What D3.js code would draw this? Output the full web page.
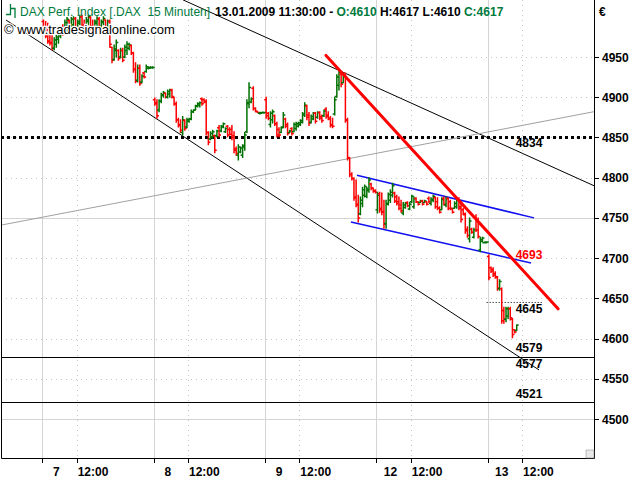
<!DOCTYPE html>
<html><head><meta charset="utf-8">
<script src="https://cdn.jsdelivr.net/npm/d3@7"></script>
<style>
body{margin:0;background:#fff}
svg{display:block;font-family:"Liberation Sans",Arial,sans-serif}
</style>
</head><body>
<svg id="c" width="640" height="480"></svg>
<script>
// ---- data: 15-minute OHLC bars [open, high, low, close], one array per trading day ----
const dayLabels = ["7", "8", "9", "12", "13"];
const barsPerDay = 52;           // 08:00 .. 21:00
const noonOffset = 16;           // 12:00 = 16 bars after day start

const day7 = [
[4994,4996,4980,4982],[4982,4994,4974,4976],[4976,4992,4967,4969],[4970,4980,4965,4967],
[4968,4980,4959,4961],[4961,4974,4959,4971],[4966,4977,4962,4975],[4972,4984,4967,4982],
[4976,4987,4974,4985],[4986,4990,4977,4979],[4980,4996,4980,4993],[4988,4999,4981,4997],
[4995,4996,4980,4984],[4988,4999,4987,4997],[4990,5000,4986,4998],[4998,4999,4984,4986],
[4986,4996,4984,4994],[4992,5002,4990,5000],[5000,5002,4986,4988],[4990,4996,4984,4985],
[4986,4999,4986,4996],[4994,5002,4990,5000],[4999,5000,4984,4986],[4988,4996,4981,4983],
[4987,4996,4986,4994],[4992,5000,4987,4998],[4997,4999,4984,4988],[4988,4996,4984,4994],
[4993,5000,4990,4998],[4996,4996,4984,4986],[4986,4996,4984,4994],[4994,4996,4962,4966],
[4962,4962,4943,4946],[4947,4965,4946,4960],[4958,4971,4950,4968],[4958,4959,4946,4948],
[4950,4961,4949,4958],[4958,4961,4944,4946],[4950,4965,4949,4962],[4958,4969,4953,4966],
[4961,4967,4959,4965],[4964,4965,4953,4955],[4955,4956,4931,4934],[4935,4943,4918,4920],
[4921,4940,4919,4936],[4936,4940,4915,4917],[4919,4928,4918,4926],[4930,4931,4924,4925],
[4932,4940,4931,4938],[4936,4938,4935,4937],[4936,4938,4936,4937],[4937,4938,4936,4937]];

const day8 = [
[4897,4899,4890,4892],[4893,4897,4874,4877],[4884,4897,4882,4895],[4895,4905,4893,4903],
[4902,4907,4900,4906],[4905,4905,4899,4900],[4900,4909,4899,4907],[4904,4910,4900,4909],
[4909,4910,4899,4901],[4900,4900,4890,4892],[4892,4894,4869,4872],[4872,4874,4863,4865],
[4866,4872,4856,4859],[4856,4876,4853,4872],[4871,4872,4859,4861],[4863,4874,4862,4872],
[4870,4874,4869,4873],[4873,4884,4872,4882],[4882,4884,4881,4884],[4884,4890,4884,4889],
[4889,4893,4888,4892],[4890,4894,4888,4893],[4898,4899,4890,4892],[4897,4898,4893,4894],
[4895,4897,4853,4856],[4856,4857,4841,4844],[4848,4857,4847,4855],[4851,4859,4849,4857],
[4852,4853,4831,4834],[4852,4859,4851,4858],[4862,4865,4851,4853],[4858,4865,4857,4864],
[4863,4868,4862,4867],[4857,4862,4856,4861],[4864,4865,4851,4853],[4860,4862,4853,4854],
[4860,4865,4847,4850],[4852,4857,4831,4834],[4836,4838,4828,4830],[4828,4841,4822,4838],
[4832,4838,4831,4837],[4828,4841,4825,4840],[4838,4856,4834,4853],[4857,4897,4856,4893],
[4892,4918,4887,4912],[4894,4899,4893,4898],[4911,4913,4884,4886],[4886,4887,4882,4883],
[4882,4882,4881,4881],[4880,4881,4879,4881],[4880,4881,4880,4881],[4881,4881,4880,4881]];

const day9 = [
[4897,4900,4874,4877],[4880,4881,4872,4874],[4866,4882,4863,4880],[4872,4884,4868,4882],
[4877,4878,4865,4867],[4867,4869,4851,4853],[4860,4862,4851,4853],[4856,4863,4856,4862],
[4863,4881,4862,4878],[4873,4874,4862,4864],[4866,4868,4853,4855],[4856,4859,4856,4858],
[4861,4862,4853,4855],[4857,4868,4857,4866],[4861,4869,4859,4867],[4864,4869,4863,4868],
[4866,4872,4865,4871],[4869,4881,4868,4879],[4878,4893,4876,4890],[4889,4890,4872,4875],
[4878,4881,4865,4868],[4869,4878,4868,4876],[4873,4881,4872,4880],[4880,4881,4868,4870],
[4875,4882,4874,4881],[4881,4882,4872,4874],[4876,4878,4869,4871],[4877,4884,4876,4883],
[4885,4887,4874,4876],[4878,4882,4872,4873],[4874,4876,4863,4865],[4866,4874,4862,4864],
[4879,4900,4878,4897],[4901,4928,4900,4925],[4915,4934,4909,4931],[4929,4930,4913,4916],
[4918,4930,4918,4928],[4927,4930,4869,4872],[4871,4874,4822,4825],[4824,4825,4801,4804],
[4804,4806,4797,4799],[4799,4800,4772,4775],[4776,4797,4764,4766],[4767,4778,4745,4750],
[4755,4776,4754,4772],[4768,4788,4764,4785],[4778,4791,4776,4789],[4777,4788,4775,4786],
[4784,4800,4782,4797],[4792,4793,4785,4787],[4787,4787,4782,4783],[4784,4785,4781,4782]];

const day12 = [
[4760,4782,4756,4778],[4780,4782,4757,4760],[4762,4781,4754,4757],[4758,4772,4737,4742],
[4743,4772,4737,4768],[4767,4781,4766,4779],[4772,4785,4769,4782],[4778,4793,4776,4790],
[4781,4782,4769,4771],[4776,4778,4766,4768],[4770,4776,4760,4762],[4766,4772,4757,4759],
[4756,4769,4754,4766],[4763,4769,4762,4768],[4769,4770,4764,4765],[4761,4769,4760,4767],
[4770,4778,4769,4777],[4764,4776,4762,4774],[4774,4775,4769,4770],[4770,4770,4766,4767],
[4769,4772,4769,4771],[4771,4772,4766,4767],[4769,4772,4769,4771],[4770,4770,4766,4767],
[4774,4776,4769,4770],[4768,4775,4766,4773],[4772,4778,4770,4777],[4775,4776,4762,4764],
[4770,4775,4760,4762],[4762,4764,4756,4757],[4760,4775,4760,4773],[4774,4776,4766,4767],
[4766,4776,4764,4774],[4774,4775,4760,4762],[4770,4772,4760,4762],[4761,4762,4756,4757],
[4762,4770,4762,4768],[4764,4775,4762,4773],[4774,4775,4760,4762],[4764,4770,4745,4748],
[4760,4762,4754,4755],[4754,4756,4731,4734],[4736,4739,4726,4728],[4724,4750,4720,4746],
[4736,4737,4731,4732],[4726,4737,4725,4735],[4750,4754,4733,4735],[4746,4750,4725,4727],
[4710,4726,4708,4723],[4721,4726,4720,4725],[4719,4720,4719,4720],[4719,4720,4719,4720]];

const day13 = [
[4702,4704,4673,4676],[4688,4689,4682,4684],[4686,4688,4677,4679],[4681,4683,4675,4677],
[4676,4677,4660,4663],[4662,4673,4660,4671],[4662,4663,4619,4622],[4635,4639,4619,4624],
[4624,4639,4621,4637],[4628,4639,4625,4637],[4637,4639,4623,4626],[4624,4625,4601,4605],
[4611,4611,4607,4608],[4610,4617,4610,4617]];

const priceTicks = [4500,4550,4600,4650,4700,4750,4800,4850,4900,4950];
const solidGridPrices = [4500,4750];
const dottedLevel = 4850;              // thick black dotted level
const solidLevels = [4577, 4521];      // black horizontal levels
const shortDotted = {t1: 3.99, t2: 4.50, p: 4645};

// trend lines in (day-units, price)
const trendLines = [
  {t1:-0.327, p1:4996, t2:4.460, p2:4561, color:"#000", w:1},      // lower black channel
  {t1: 1.263, p1:5021, t2:4.953, p2:4790, color:"#000", w:1},      // upper black line
  {t1:-0.372, p1:4741, t2:4.953, p2:4882, color:"#a0a0a0", w:1},   // grey line
  {t1: 2.825, p1:4803, t2:4.415, p2:4750, color:"#1010f0", w:1.5}, // blue upper
  {t1: 2.771, p1:4745, t2:4.388, p2:4694, color:"#1010f0", w:1.5}, // blue lower
  {t1: 2.547, p1:4952, t2:4.631, p2:4637, color:"#ff0000", w:3}    // red line
];

// labels: value, colour, baseline shift (px) relative to the value's y position
const levelLabels = [
  {p:4834, text:"4834", color:"#000", shift:-3},
  {p:4693, text:"4693", color:"#ff0000", shift:-5},
  {p:4645, text:"4645", color:"#000", shift:11},
  {p:4579, text:"4579", color:"#000", shift:-3.5},
  {p:4577, text:"4577", color:"#000", shift:11},
  {p:4521, text:"4521", color:"#000", shift:-4.5}
];

// ---- layout ----
const plot = {left:1, right:594, top:0, bottom:458};
const svg = d3.select("#c");
const x = d3.scaleLinear().domain([0, 5]).range([42.4, 42.4 + 5*111.35]);
const y = d3.scaleLinear().domain([4500, 4950]).range([419, 57]);

svg.append("defs").append("clipPath").attr("id","pc")
  .append("rect").attr("x",plot.left).attr("y",plot.top)
  .attr("width",plot.right-plot.left).attr("height",plot.bottom-plot.top);

const g = svg.append("g").attr("clip-path","url(#pc)");

// grid
const dayTicks = dayLabels.map((d,i)=>i);
const noonTicks = dayLabels.map((d,i)=>i + noonOffset/barsPerDay);
g.selectAll(".hg").data(priceTicks).join("line")
  .attr("x1",plot.left).attr("x2",plot.right)
  .attr("y1",d=>Math.round(y(d))+0.5).attr("y2",d=>Math.round(y(d))+0.5)
  .attr("stroke",d=>solidGridPrices.includes(d)?"#d4d4d4":"#c4c4c4")
  .attr("stroke-dasharray",d=>solidGridPrices.includes(d)?null:"1,4");
g.selectAll(".vd").data(dayTicks).join("line")
  .attr("x1",d=>Math.round(x(d))+0.5).attr("x2",d=>Math.round(x(d))+0.5)
  .attr("y1",plot.top).attr("y2",plot.bottom).attr("stroke","#d4d4d4");
g.selectAll(".vn").data(noonTicks).join("line")
  .attr("x1",d=>Math.round(x(d))+0.5).attr("x2",d=>Math.round(x(d))+0.5)
  .attr("y1",plot.top).attr("y2",plot.bottom).attr("stroke","#c4c4c4")
  .attr("stroke-dasharray","1,4");

// levels
g.append("line").attr("x1",plot.left).attr("x2",plot.right)
  .attr("y1",y(dottedLevel)).attr("y2",y(dottedLevel))
  .attr("stroke","#000").attr("stroke-width",3).attr("stroke-dasharray","3,3");
g.selectAll(".sl").data(solidLevels).join("line")
  .attr("x1",plot.left).attr("x2",plot.right)
  .attr("y1",d=>Math.round(y(d))+0.5).attr("y2",d=>Math.round(y(d))+0.5)
  .attr("stroke","#000");
g.append("line").attr("x1",x(shortDotted.t1)).attr("x2",x(shortDotted.t2))
  .attr("y1",Math.round(y(shortDotted.p))+0.5).attr("y2",Math.round(y(shortDotted.p))+0.5)
  .attr("stroke","#000").attr("stroke-dasharray","1,2");

// trend lines (drawn under bars except the red one)
g.selectAll(".tl").data(trendLines.slice(0,5)).join("line")
  .attr("x1",d=>x(d.t1)).attr("y1",d=>y(d.p1)).attr("x2",d=>x(d.t2)).attr("y2",d=>y(d.p2))
  .attr("stroke",d=>d.color).attr("stroke-width",d=>d.w);

// bars
const bars = [];
[day7, day8, day9, day12, day13].forEach((arr, d) =>
  arr.forEach((b, i) => bars.push({t: d + (i + 0.5)/barsPerDay, o:b[0], h:b[1], l:b[2], c:b[3]})));
g.selectAll(".bar").data(bars).join("path")
  .attr("d", b => {
    const cx = x(b.t);
    return `M${cx},${y(b.h)-0.5}V${y(b.l)+0.5}M${cx-2},${y(b.o)}H${cx}M${cx},${y(b.c)}H${cx+2}`;
  })
  .attr("fill","none")
  .attr("stroke", b => b.c >= b.o ? "#007000" : "#ff0000")
  .attr("stroke-width",1.5);

// red line on top
const rl = trendLines[5];
g.append("line").attr("x1",x(rl.t1)).attr("y1",y(rl.p1)).attr("x2",x(rl.t2)).attr("y2",y(rl.p2))
  .attr("stroke",rl.color).attr("stroke-width",rl.w).attr("stroke-linecap","round");

// level labels
const lx = x(4 + 13/barsPerDay);
g.selectAll(".ll").data(levelLabels).join("text")
  .attr("x", lx).attr("y", d => y(d.p) + d.shift)
  .attr("fill", d=>d.color).attr("font-size",12).attr("font-weight","bold")
  .text(d=>d.text);

// frame
svg.append("path").attr("d",`M${plot.left+0.5},${plot.top}V${plot.bottom+0.5}H${plot.right+0.5}V${plot.top}`)
  .attr("fill","none").attr("stroke","#000");
svg.append("rect").attr("x",586).attr("y",450).attr("width",8).attr("height",8)
  .attr("fill","#e8e8e8").attr("stroke","#888").attr("stroke-width",0.5);

// right axis
const ya = svg.append("g");
ya.selectAll("line").data(priceTicks).join("line")
  .attr("x1",plot.right+1).attr("x2",plot.right+5)
  .attr("y1",d=>Math.round(y(d))+0.5).attr("y2",d=>Math.round(y(d))+0.5).attr("stroke","#000");
ya.selectAll("text").data(priceTicks).join("text")
  .attr("x",602).attr("y",d=>y(d)+4.5).attr("font-size",12).attr("font-weight","bold")
  .text(d=>d);
svg.append("text").attr("x",599).attr("y",16).attr("font-size",12).attr("font-weight","bold").text("€");

// bottom axis
const xa = svg.append("g");
xa.selectAll(".dt").data(dayTicks.concat(noonTicks)).join("line")
  .attr("x1",d=>Math.round(x(d))+0.5).attr("x2",d=>Math.round(x(d))+0.5)
  .attr("y1",plot.bottom).attr("y2",plot.bottom+5).attr("stroke","#000");
xa.selectAll(".dl").data(dayLabels).join("text")
  .attr("x",(d,i)=>x(i)+14).attr("y",476).attr("text-anchor","middle")
  .attr("font-size",12).attr("font-weight","bold").text(d=>d);
xa.selectAll(".nl").data(noonTicks).join("text")
  .attr("x",d=>x(d)+1).attr("y",476)
  .attr("font-size",12).attr("font-weight","bold").text("12:00");

// header
svg.append("path").attr("d","M6,14.5H10.5V4M10.5,8.5H15V18").attr("fill","none")
  .attr("stroke","#007a3d").attr("stroke-width",1.3);
const hdr = svg.append("text").attr("x",20).attr("y",16).attr("font-size",12);
hdr.append("tspan").attr("fill","#007a3d").text("DAX Perf. Index [.DAX\u00a0\u00a015 Minuten]");
hdr.append("tspan").attr("font-weight","bold").attr("dx",5).text("13.01.2009 11:30:00");
hdr.append("tspan").attr("font-weight","bold").text(" - ");
hdr.append("tspan").attr("font-weight","bold").attr("fill","#007a3d").text("O:4610");
hdr.append("tspan").attr("font-weight","bold").text(" H:4617 L:4610 ");
hdr.append("tspan").attr("font-weight","bold").attr("fill","#007a3d").text("C:4617");

svg.append("text").attr("x",4).attr("y",34).attr("font-size",13)
  .attr("stroke","#fff").attr("stroke-width",2.5).attr("paint-order","stroke")
  .attr("fill","#000").text("© www.tradesignalonline.com");
</script>
</body></html>
